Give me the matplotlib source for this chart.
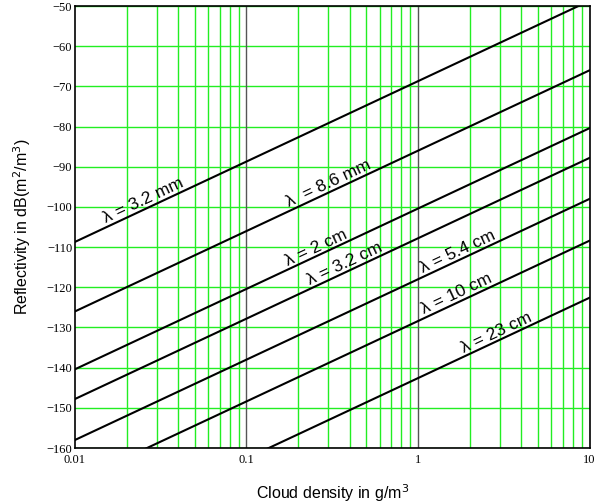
import numpy as np
import matplotlib
matplotlib.use("Agg")
import matplotlib.pyplot as plt

# Data: reflectivity (dB) at 0.01 g/m^3, slope 20 dB/decade
labels = ["λ = 3.2 mm", "λ  = 8.6 mm", "λ = 2 cm", "λ = 3.2 cm", "λ = 5.4 cm", "λ = 10 cm", "λ = 23 cm"]
z_at_001 = [-108.7, -126.0, -140.4, -147.8, -158.0, -168.4, -182.6]
slope_db_per_decade = 20.0
label_x = [0.0263, 0.315, 0.265, 0.39, 1.79, 1.76, 3.0]
x_ticks = [0.01, 0.1, 1, 10]
x_tick_labels = ["0.01", "0.1", "1", "10"]
y_ticks = list(range(-160, -49, 10))

fig = plt.figure(figsize=(5.95, 5.03), dpi=100)
ax = fig.add_axes([0.126, 0.1093, 0.8648, 0.8787])
ax.set_xscale("log")
ax.set_xlim(0.01, 10)
ax.set_ylim(-160, -50)

# grid
green = "#22ee22"
for dec in [0.01, 0.1, 1]:
    for m in range(2, 10):
        ax.axvline(dec * m, color=green, lw=1.0, zorder=1)
for yv in y_ticks:
    ax.axhline(yv, color=green, lw=1.0, zorder=1)
for xv in [0.1, 1]:
    ax.axvline(xv, color="#555555", lw=1.0, zorder=2)

x = np.logspace(-2, 1, 300)
for z0 in z_at_001:
    y = z0 + slope_db_per_decade * (np.log10(x) + 2)
    ax.plot(x, y, color="black", lw=1.5, zorder=3)

fig.canvas.draw()
# angle of lines in display
p1 = ax.transData.transform((0.01, -150))
p2 = ax.transData.transform((10, -150 + 3 * slope_db_per_decade))
ang = np.degrees(np.arctan2(p2[1] - p1[1], p2[0] - p1[0]))
nx, ny = -np.sin(np.radians(ang)), np.cos(np.radians(ang))
for lab, z0, lx in zip(labels, z_at_001, label_x):
    ly = z0 + slope_db_per_decade * (np.log10(lx) + 2)
    off = 0.3
    ax.annotate(lab, xy=(lx, ly), xytext=(nx * off, ny * off), textcoords="offset points",
                rotation=ang, rotation_mode="anchor", ha="center", va="bottom",
                fontsize=12.5, family="Liberation Sans", zorder=4)

ax.set_xticks(x_ticks)
ax.set_xticklabels(x_tick_labels, family="Liberation Serif", fontsize=9)
ax.xaxis.set_minor_locator(matplotlib.ticker.NullLocator())
ax.set_yticks(y_ticks)
ax.set_yticklabels([f"\u2212{abs(v)}" for v in y_ticks], family="Liberation Serif", fontsize=9)
ax.tick_params(axis="both", length=0, pad=2)
ax.tick_params(axis="x", pad=4)
for s in ax.spines.values():
    s.set_color("black")
    s.set_linewidth(1.2)
    s.set_zorder(5)

ax.set_xlabel("Cloud density in g/m$^3$", family="Liberation Sans", fontsize=11.5, labelpad=12)
ax.set_ylabel("Reflectivity in dB(m$^2$/m$^3$)", family="Liberation Sans", fontsize=11.5, labelpad=10)

fig.savefig("out.png", dpi=100)
